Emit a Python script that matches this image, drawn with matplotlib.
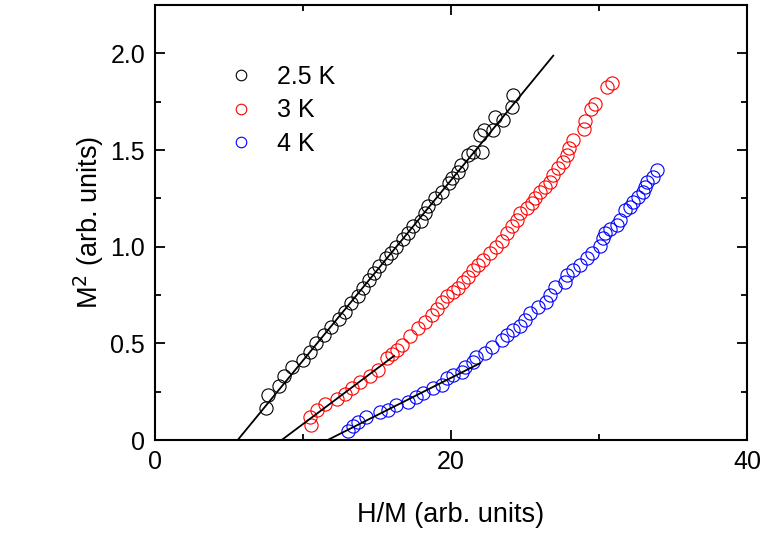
import numpy as np
from matplotlib import pyplot as plt
from matplotlib.ticker import MultipleLocator, FuncFormatter

plt.rcParams['font.family'] = ['Liberation Sans', 'DejaVu Sans']

# ---- data ----
labels = ['2.5 K', '3 K', '4 K']
colors = ['black', 'red', 'blue']

x_25 = [7.48, 7.61, 8.40, 8.74, 9.28, 10.02, 10.47, 10.86, 11.44, 11.89, 12.45, 12.84,
        13.24, 13.74, 14.03, 14.48, 14.82, 15.16, 15.59, 15.93, 16.28, 16.74, 17.07,
        17.41, 17.97, 18.24, 18.43, 18.92, 19.37, 19.86, 20.05, 20.45, 20.68, 21.13,
        21.51, 22.07, 21.96, 22.25, 22.86, 22.97, 23.53, 24.10, 24.21]
y_25 = [0.167, 0.233, 0.281, 0.331, 0.376, 0.414, 0.457, 0.500, 0.543, 0.583, 0.628, 0.664,
        0.710, 0.743, 0.785, 0.828, 0.862, 0.900, 0.942, 0.966, 1.000, 1.038, 1.072,
        1.107, 1.134, 1.173, 1.212, 1.250, 1.284, 1.328, 1.354, 1.388, 1.423, 1.474,
        1.491, 1.491, 1.578, 1.604, 1.604, 1.673, 1.655, 1.724, 1.785]

x_3 = [10.54, 10.47, 10.95, 11.49, 12.30, 12.84, 13.31, 13.85, 14.53, 15.07, 15.68, 16.01,
       16.35, 16.69, 17.23, 17.77, 18.24, 18.72, 19.05, 19.39, 19.73, 20.14, 20.47, 20.81,
       21.15, 21.49, 21.82, 22.16, 22.64, 23.04, 23.45, 23.78, 24.12, 24.46, 24.66, 25.14,
       25.47, 25.68, 26.01, 26.35, 26.69, 26.89, 27.23, 27.57, 27.84, 27.97, 28.24, 28.99,
       29.05, 29.46, 29.73, 30.54, 30.88]
y_3 = [0.078, 0.119, 0.155, 0.186, 0.212, 0.238, 0.269, 0.300, 0.331, 0.362, 0.424, 0.445,
       0.466, 0.491, 0.538, 0.579, 0.610, 0.647, 0.678, 0.714, 0.745, 0.766, 0.786, 0.817,
       0.843, 0.879, 0.905, 0.931, 0.967, 0.998, 1.029, 1.071, 1.107, 1.138, 1.174, 1.200,
       1.226, 1.252, 1.283, 1.309, 1.335, 1.371, 1.407, 1.438, 1.474, 1.511, 1.552, 1.609,
       1.650, 1.712, 1.738, 1.826, 1.847]

x_4 = [13.04, 13.38, 13.72, 14.26, 15.20, 15.74, 16.28, 17.09, 17.64, 18.11, 18.78, 19.39,
       19.73, 20.14, 20.74, 20.95, 21.49, 21.69, 22.30, 22.77, 23.45, 23.78, 24.19, 24.66,
       25.00, 25.34, 25.88, 26.42, 26.69, 27.03, 27.70, 27.84, 28.24, 28.72, 29.19, 29.53,
       30.07, 30.27, 30.41, 30.74, 31.22, 31.42, 31.76, 32.09, 32.30, 32.64, 32.97, 33.11,
       33.24, 33.65, 33.92]
y_4 = [0.047, 0.072, 0.093, 0.119, 0.145, 0.155, 0.181, 0.197, 0.222, 0.243, 0.269, 0.285,
       0.321, 0.336, 0.352, 0.378, 0.404, 0.429, 0.450, 0.481, 0.517, 0.543, 0.569, 0.590,
       0.621, 0.657, 0.688, 0.714, 0.750, 0.792, 0.817, 0.854, 0.879, 0.905, 0.942, 0.967,
       1.004, 1.045, 1.071, 1.092, 1.112, 1.138, 1.190, 1.205, 1.231, 1.257, 1.283, 1.309,
       1.335, 1.361, 1.397]

# straight-line fits (end points)
fit_x = [[5.59, 26.91], [8.56, 16.15], [11.67, 21.96]]
fit_y = [[0.0, 1.988], [0.0, 0.435], [0.0, 0.397]]

series = [(x_25, y_25), (x_3, y_3), (x_4, y_4)]

fig = plt.figure(figsize=(7.66, 5.34), dpi=100)
ax = fig.add_axes([0.2023, 0.176, 0.7729, 0.8146])

for (xs, ys), c, lab in zip(series, colors, labels):
    ax.plot(xs, ys, 'o', ms=9.5, mfc='none', mec=c, mew=0.8, label=lab, zorder=2)

for fx, fy in zip(fit_x, fit_y):
    ax.plot(fx, fy, '-', color='black', lw=1.3, zorder=3)

ax.set_xlim(0, 40)
ax.set_ylim(0, 2.25)
ax.xaxis.set_major_locator(MultipleLocator(20))
ax.xaxis.set_minor_locator(MultipleLocator(10))
ax.yaxis.set_major_locator(MultipleLocator(0.5))
ax.yaxis.set_minor_locator(MultipleLocator(0.25))
ax.yaxis.set_major_formatter(FuncFormatter(lambda v, p: '0' if v == 0 else '%.1f' % v))

ax.tick_params(which='both', direction='in', top=True, right=True, width=1.3,
               labelsize=18, pad=7)
ax.tick_params(which='major', length=7)
ax.tick_params(which='minor', length=4.5)
for s in ax.spines.values():
    s.set_linewidth(1.5)

ax.set_xlabel('H/M (arb. units)', fontsize=19.5, labelpad=20)
ax.set_ylabel('M$^2$ (arb. units)', fontsize=19.5, labelpad=3)

ax.legend(loc='upper left', bbox_to_anchor=(0.078, 0.914), frameon=False, fontsize=18,
          markerscale=0.8, handletextpad=0.75, labelspacing=0.38, handlelength=1.4)

fig.savefig('out.png', dpi=100)
